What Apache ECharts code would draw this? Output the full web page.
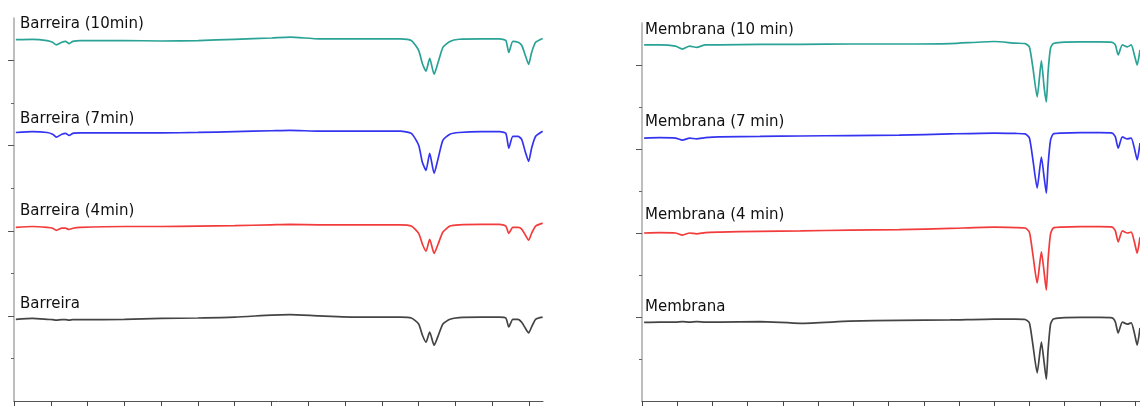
<!DOCTYPE html>
<html>
<head>
<meta charset="utf-8">
<script src="https://cdn.jsdelivr.net/npm/echarts@6/dist/echarts.min.js"></script>
<style>html,body{margin:0;padding:0;background:#fff}#c{width:1140px;height:406px}</style>
</head>
<body>
<div id="c"></div>
<script>
// ---------- data ----------
const xLeft = [0.05,0.5,0.9,1.05,1.15,1.3,1.4,1.5,1.6,1.8,3,4,5,6,7,7.5,8.3,9.4,10.5,10.8,11.0,11.1,11.2,11.3,11.42,11.53,11.66,11.85,12.1,12.7,13.2,13.37,13.45,13.56,13.7,13.8,13.9,13.99,14.07,14.18,14.37];
const barreira10 = [8.49,8.50,8.47,8.43,8.37,8.43,8.45,8.40,8.45,8.47,8.47,8.46,8.47,8.50,8.53,8.55,8.51,8.51,8.51,8.47,8.24,7.93,7.75,8.05,7.68,7.96,8.31,8.45,8.50,8.51,8.51,8.47,8.19,8.45,8.43,8.36,8.12,7.91,8.19,8.43,8.52];
const barreira7  = [6.31,6.33,6.31,6.27,6.20,6.27,6.29,6.24,6.29,6.30,6.30,6.30,6.31,6.33,6.35,6.36,6.34,6.34,6.34,6.29,6.01,5.61,5.42,5.82,5.35,5.70,6.13,6.27,6.31,6.33,6.33,6.29,5.94,6.22,6.22,6.15,5.85,5.63,5.94,6.22,6.34];
const barreira4  = [4.08,4.10,4.08,4.06,4.01,4.06,4.06,4.03,4.06,4.08,4.10,4.10,4.11,4.12,4.14,4.15,4.14,4.14,4.14,4.11,3.94,3.69,3.52,3.80,3.47,3.69,3.97,4.11,4.14,4.15,4.15,4.11,3.94,4.08,4.08,4.04,3.90,3.78,3.94,4.11,4.18];
const barreira   = [1.92,1.94,1.92,1.91,1.90,1.91,1.91,1.90,1.91,1.91,1.92,1.94,1.95,1.97,2.02,2.03,2.00,1.97,1.97,1.95,1.81,1.55,1.38,1.62,1.31,1.53,1.81,1.92,1.96,1.97,1.97,1.95,1.74,1.92,1.92,1.85,1.71,1.60,1.74,1.92,1.97];

const xRight = [0.06,0.5,0.95,1.15,1.35,1.55,1.8,2.2,3.35,4.5,5.9,7.3,8.75,10.0,10.6,10.88,11.0,11.1,11.22,11.34,11.42,11.48,11.53,11.6,11.68,11.9,12.45,13.0,13.35,13.44,13.52,13.64,13.78,13.89,13.98,14.06,14.14];
const membrana10 = [8.48,8.48,8.45,8.38,8.45,8.42,8.48,8.48,8.49,8.49,8.50,8.50,8.51,8.56,8.52,8.51,8.43,7.93,7.24,8.10,7.45,7.12,7.83,8.40,8.51,8.54,8.55,8.55,8.54,8.48,8.24,8.48,8.43,8.48,8.24,8.00,8.36];
const membrana7  = [6.26,6.27,6.26,6.21,6.26,6.24,6.27,6.29,6.30,6.31,6.32,6.33,6.36,6.38,6.37,6.36,6.26,5.74,5.07,5.81,5.31,4.95,5.62,6.21,6.36,6.38,6.39,6.39,6.38,6.29,6.02,6.29,6.24,6.26,6.02,5.74,6.14];
const membrana4  = [4.00,4.01,4.00,3.95,4.00,3.98,4.01,4.02,4.04,4.05,4.07,4.08,4.11,4.14,4.13,4.12,4.02,3.48,2.81,3.55,3.05,2.64,3.36,3.98,4.12,4.14,4.15,4.15,4.14,4.05,3.79,4.05,4.00,4.02,3.79,3.52,3.90];
const membrana   = [1.87,1.88,1.88,1.89,1.88,1.89,1.88,1.88,1.89,1.85,1.90,1.92,1.93,1.95,1.95,1.94,1.86,1.33,0.67,1.40,0.90,0.52,1.21,1.83,1.95,1.98,1.99,1.99,1.98,1.88,1.62,1.88,1.83,1.86,1.62,1.33,1.74];

const namesLeft  = ['Barreira (10min)', 'Barreira (7min)', 'Barreira (4min)', 'Barreira'];
const namesRight = ['Membrana (10 min)', 'Membrana (7 min)', 'Membrana (4 min)', 'Membrana'];
const xTicks = [0,1,2,3,4,5,6,7,8,9,10,11,12,13,14];
const yMajorTicks = [2,4,6,8];
const yMinorTicks = [1,3,5,7];

// ---------- styles ----------
const colors = ['#2aa396', '#3434f0', '#f23b3b', '#444444'];
const labelTopLeft  = [26, 121, 213, 306];
const labelTopRight = [32, 124, 217, 309];

const pair = (xs, ys) => xs.map((x, i) => [x, ys[i]]);
const leftSeries  = [barreira10, barreira7, barreira4, barreira];
const rightSeries = [membrana10, membrana7, membrana4, membrana];

const chart = echarts.init(document.getElementById('c'), null, {renderer: 'canvas'});

function xAxisFor(gridIndex, max) {
  return {
    type: 'value', gridIndex, min: 0, max, position: 'bottom',
    axisLine: {show: true, lineStyle: {color: '#555', width: 1}},
    axisTick: {show: true, length: 5, customValues: xTicks, lineStyle: {color: '#444'}},
    axisLabel: {show: false},
    splitLine: {show: false}
  };
}
function yAxesFor(gridIndex) {
  return [{
    type: 'value', gridIndex, min: 0, max: 9, position: 'left', offset: 0,
    axisLine: {show: true, onZero: false, lineStyle: {color: '#a8a8a8', width: 1.5}},
    axisTick: {show: true, length: 6, customValues: yMajorTicks, lineStyle: {color: '#555'}},
    axisLabel: {show: false},
    splitLine: {show: false}
  }, {
    type: 'value', gridIndex, min: 0, max: 9, position: 'left', offset: 0,
    axisLine: {show: false, onZero: false},
    axisTick: {show: true, length: 3, customValues: yMinorTicks, lineStyle: {color: '#666'}},
    axisLabel: {show: false},
    splitLine: {show: false}
  }];
}

const series = [];
leftSeries.forEach((ys, i) => series.push({
  type: 'line', name: namesLeft[i], xAxisIndex: 0, yAxisIndex: 0,
  data: pair(xLeft, ys), showSymbol: false, smooth: 0.2, animation: false,
  lineStyle: {color: colors[i], width: 1.7}
}));
rightSeries.forEach((ys, i) => series.push({
  type: 'line', name: namesRight[i], xAxisIndex: 1, yAxisIndex: 2,
  data: pair(xRight, ys), showSymbol: false, smooth: 0.2, animation: false,
  lineStyle: {color: colors[i], width: 1.7}
}));

const graphics = [];
namesLeft.forEach((t, i) => graphics.push({
  type: 'text', left: 20, top: labelTopLeft[i] - 9,
  style: {text: t, font: '15px "DejaVu Sans"', fill: '#111'}
}));
namesRight.forEach((t, i) => graphics.push({
  type: 'text', left: 645, top: labelTopRight[i] - 9,
  style: {text: t, font: '15px "DejaVu Sans"', fill: '#111'}
}));

chart.setOption({
  backgroundColor: '#fff',
  animation: false,
  grid: [
    {left: 14, top: 18, width: 529, height: 383},
    {left: 642, top: 23, width: 498, height: 378}
  ],
  xAxis: [xAxisFor(0, 14.38), xAxisFor(1, 14.14)],
  yAxis: [...yAxesFor(0), ...yAxesFor(1)],
  series,
  graphic: graphics
});
</script>
</body>
</html>
